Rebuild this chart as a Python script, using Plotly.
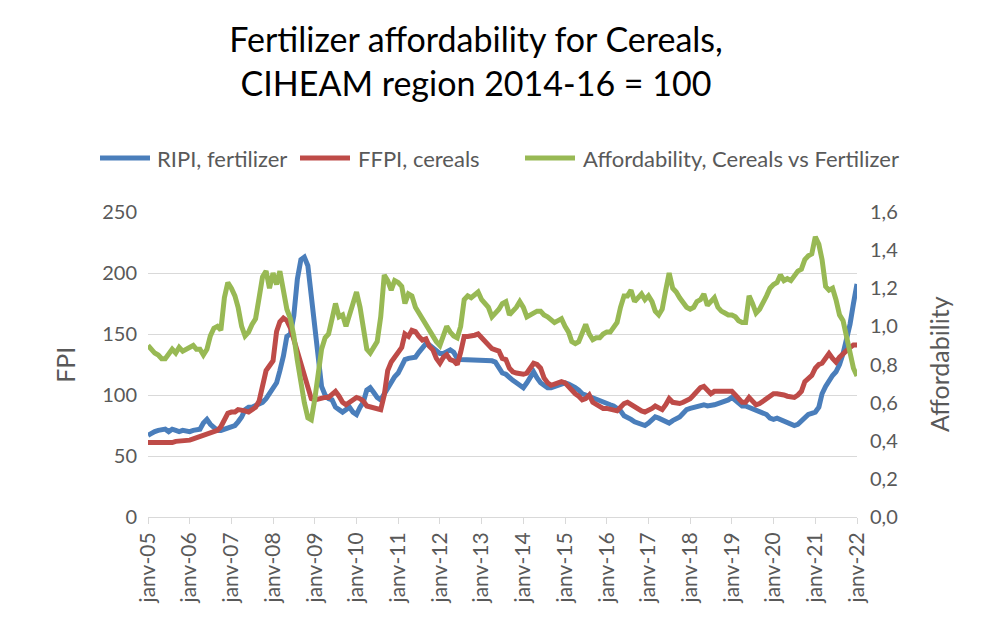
import pandas as pd
import plotly.graph_objects as go

months = pd.date_range("2005-01-01", periods=205, freq="MS")

ripi_fertilizer = [
    67, 69, 70, 71, 71, 72, 70, 72, 71, 70, 71, 70,
    70, 71, 71, 72, 77, 80, 76, 73, 71, 71, 72, 72,
    73, 75, 78, 82, 88, 90, 90, 91, 92, 94, 97, 101,
    105, 110, 120, 132, 148, 150, 165, 195, 211, 213, 206, 180,
    160, 134, 107, 100, 97, 96, 90, 88, 86, 88, 90, 86,
    84, 90, 94, 104, 106, 102, 98, 96, 101, 105, 110, 115,
    118, 124, 129, 130, 130, 131, 135, 139, 142, 141, 139, 136,
    134, 134, 136, 137, 135, 130, 129, 129, 128, 129, 128, 129,
    129, 128, 128, 128, 127, 122, 118, 117, 114, 112, 110, 108,
    106, 110, 115, 119, 114, 110, 108, 106, 106, 107, 108, 110,
    110, 109, 108, 106, 104, 101, 100, 99, 98, 97, 95, 94,
    93, 92, 91, 89, 87, 83, 82, 80, 78, 77, 76, 75,
    77, 80, 82, 81, 80, 78, 77, 79, 80, 82, 85, 88,
    89, 90, 91, 92, 92, 91, 91, 92, 93, 94, 94, 96,
    98, 96, 93, 91, 91, 90, 88, 88, 87, 86, 84, 81,
    80, 81, 80, 79, 78, 77, 75, 76, 79, 82, 84, 85,
    86, 90, 101, 107, 112, 116, 119, 125, 134, 145, 158, 175,
    191,
]

ffpi_cereals = [
    61, 61, 60, 60, 60, 61, 61, 61, 62, 62, 62, 62,
    63, 64, 65, 66, 67, 68, 69, 70, 71, 74, 80, 85,
    86, 86, 88, 88, 87, 86, 88, 90, 95, 108, 120, 124,
    128, 152, 160, 163, 161, 155, 145, 135, 126, 118, 107, 97,
    96, 97, 97, 98, 98, 100, 103, 99, 94, 92, 94, 97,
    98, 97, 95, 91, 90, 89, 88, 88, 100, 120, 127, 131,
    135, 139, 150, 148, 153, 152, 148, 145, 146, 140, 137, 130,
    126, 131, 133, 129, 128, 125, 135, 148, 148, 148, 149, 150,
    147, 143, 140, 138, 137, 136, 130, 129, 122, 119, 118, 117,
    117, 118, 122, 126, 125, 122, 114, 110, 108, 109, 110, 111,
    110, 107, 103, 101, 99, 96, 97, 100, 94, 92, 90, 89,
    89, 88, 87, 87, 90, 93, 94, 92, 91, 89, 87, 86,
    87, 89, 91, 89, 88, 92, 97, 94, 93, 93, 94, 95,
    97, 100, 103, 106, 107, 104, 101, 103, 103, 102, 102, 103,
    103, 100, 97, 94, 94, 98, 95, 92, 93, 95, 96, 98,
    101, 101, 100, 100, 99, 98, 98, 100, 103, 111, 114, 116,
    122, 125, 126, 130, 134, 130, 127, 131, 134, 137, 139, 141,
    141,
]

affordability = [
    0.90, 0.88, 0.86, 0.85, 0.83, 0.83, 0.86, 0.88, 0.86, 0.89, 0.87, 0.88,
    0.89, 0.90, 0.88, 0.88, 0.85, 0.88, 0.95, 0.99, 1.00, 0.98, 1.15, 1.23,
    1.20, 1.16, 1.10, 1.00, 0.95, 0.97, 1.01, 1.04, 1.15, 1.26, 1.29, 1.20,
    1.28, 1.22, 1.29, 1.19, 1.09, 1.04, 0.95, 0.82, 0.70, 0.60, 0.52, 0.51,
    0.62, 0.75, 0.88, 0.94, 0.96, 1.04, 1.12, 1.05, 1.06, 1.00, 1.06, 1.13,
    1.18, 1.10, 1.00, 0.88, 0.86, 0.89, 0.92, 1.05, 1.27, 1.24, 1.19, 1.24,
    1.23, 1.21, 1.12, 1.17, 1.16, 1.10, 1.07, 1.03, 1.01, 0.98, 0.94, 0.92,
    0.90, 0.96, 1.00, 0.97, 0.95, 0.94, 1.00, 1.14, 1.16, 1.15, 1.17, 1.18,
    1.14, 1.12, 1.10, 1.05, 1.07, 1.09, 1.12, 1.13, 1.06, 1.08, 1.10, 1.13,
    1.10, 1.05, 1.06, 1.07, 1.08, 1.08, 1.06, 1.05, 1.03, 1.02, 1.03, 1.04,
    1.00, 0.97, 0.92, 0.91, 0.92, 0.96, 1.01, 0.96, 0.93, 0.94, 0.94, 0.96,
    0.97, 0.97, 0.99, 1.02, 1.10, 1.16, 1.16, 1.19, 1.13, 1.15, 1.17, 1.14,
    1.16, 1.13, 1.08, 1.06, 1.09, 1.19, 1.28, 1.20, 1.18, 1.15, 1.12, 1.10,
    1.09, 1.10, 1.13, 1.14, 1.17, 1.11, 1.13, 1.15, 1.10, 1.08, 1.07, 1.06,
    1.06, 1.05, 1.03, 1.02, 1.02, 1.16, 1.12, 1.07, 1.09, 1.12, 1.16, 1.20,
    1.22, 1.23, 1.27, 1.24, 1.25, 1.24, 1.27, 1.29, 1.30, 1.35, 1.37, 1.38,
    1.47, 1.43, 1.35, 1.21, 1.19, 1.20, 1.14, 1.06, 1.03, 0.95, 0.86, 0.78,
    0.74,
]

series_names = ["RIPI, fertilizer", "FFPI, cereals", "Affordability, Cereals vs Fertilizer"]
series_colors = ["#4a7ebb", "#be4b48", "#98b954"]

tick_years = list(range(2005, 2023))
tick_labels = ["janv-%02d" % (y % 100) for y in tick_years]
left_ticks = [0, 50, 100, 150, 200, 250]
right_ticks = [0.0, 0.2, 0.4, 0.6, 0.8, 1.0, 1.2, 1.4, 1.6]

FONT = "Lato, 'Open Sans', sans-serif"
GREY = "#595959"

W, H = 989, 618
L, R, T, B = 148, 132, 212, 101
PW, PH = W - L - R, H - T - B


def px_x(px):
    return (px - L) / PW


def px_y(py):
    return (H - B - py) / PH


fig = go.Figure()
fig.add_trace(go.Scatter(x=months, y=ripi_fertilizer, name=series_names[0],
                         mode="lines", line=dict(color=series_colors[0], width=5)))
fig.add_trace(go.Scatter(x=months, y=ffpi_cereals, name=series_names[1],
                         mode="lines", line=dict(color=series_colors[1], width=5)))
fig.add_trace(go.Scatter(x=months, y=affordability, name=series_names[2],
                         mode="lines", line=dict(color=series_colors[2], width=5), yaxis="y2"))

# custom legend (Excel-like long line samples)
legend_line_x = [(100, 150), (300, 350), (525, 575)]
legend_text_x = [155, 356, 581]
legend_y = 158
shapes = []
annotations = []
for (x0, x1), tx, name, col in zip(legend_line_x, legend_text_x, series_names, series_colors):
    shapes.append(dict(type="line", xref="paper", yref="paper",
                       x0=px_x(x0), x1=px_x(x1), y0=px_y(legend_y), y1=px_y(legend_y),
                       line=dict(color=col, width=5)))
    annotations.append(dict(text=name, xref="paper", yref="paper", x=px_x(tx), y=px_y(legend_y),
                            xanchor="left", yanchor="middle", showarrow=False,
                            font=dict(size=22, color=GREY)))

annotations += [
    dict(text="FPI", xref="paper", yref="paper", x=-0.118, y=0.5, showarrow=False,
         textangle=-90, font=dict(size=25, color=GREY), xanchor="center", yanchor="middle"),
    dict(text="Affordability", xref="paper", yref="paper", x=1.115, y=0.5, showarrow=False,
         textangle=-90, font=dict(size=25, color=GREY), xanchor="center", yanchor="middle"),
]

fig.update_layout(
    width=W, height=H,
    paper_bgcolor="white", plot_bgcolor="white",
    separators=", ",
    margin=dict(l=L, r=R, t=T, b=B),
    font=dict(family=FONT, color=GREY, size=20),
    title=dict(text="Fertilizer affordability for Cereals,<br>CIHEAM region 2014-16 = 100",
               x=476 / W, xanchor="center", y=0.916, yanchor="middle",
               font=dict(family=FONT, size=34, color="black")),
    showlegend=False,
    xaxis=dict(
        type="date",
        range=[months[0], months[-1]],
        tickvals=[pd.Timestamp(f"{y}-01-01") for y in tick_years],
        ticktext=tick_labels,
        tickangle=-90,
        showgrid=False,
        showline=True, linecolor="#d9d9d9", linewidth=1,
        ticks="outside", ticklen=6, tickcolor="#d9d9d9",
        tickfont=dict(size=21, color=GREY),
    ),
    yaxis=dict(
        range=[0, 250], tickvals=left_ticks,
        showgrid=True, gridcolor="#d9d9d9", gridwidth=1,
        zeroline=False, showline=False,
        tickfont=dict(size=20, color=GREY),
        ticks="", ticklabelstandoff=10,
    ),
    yaxis2=dict(
        range=[0, 1.6], tickvals=right_ticks, tickformat=".1f",
        overlaying="y", side="right", showgrid=False, zeroline=False, showline=False,
        tickfont=dict(size=20, color=GREY), ticklabelstandoff=12,
    ),
    shapes=shapes,
    annotations=annotations,
)

fig.write_html("out.html", config={"displayModeBar": False},
               post_script="document.body.style.margin='0px';")
